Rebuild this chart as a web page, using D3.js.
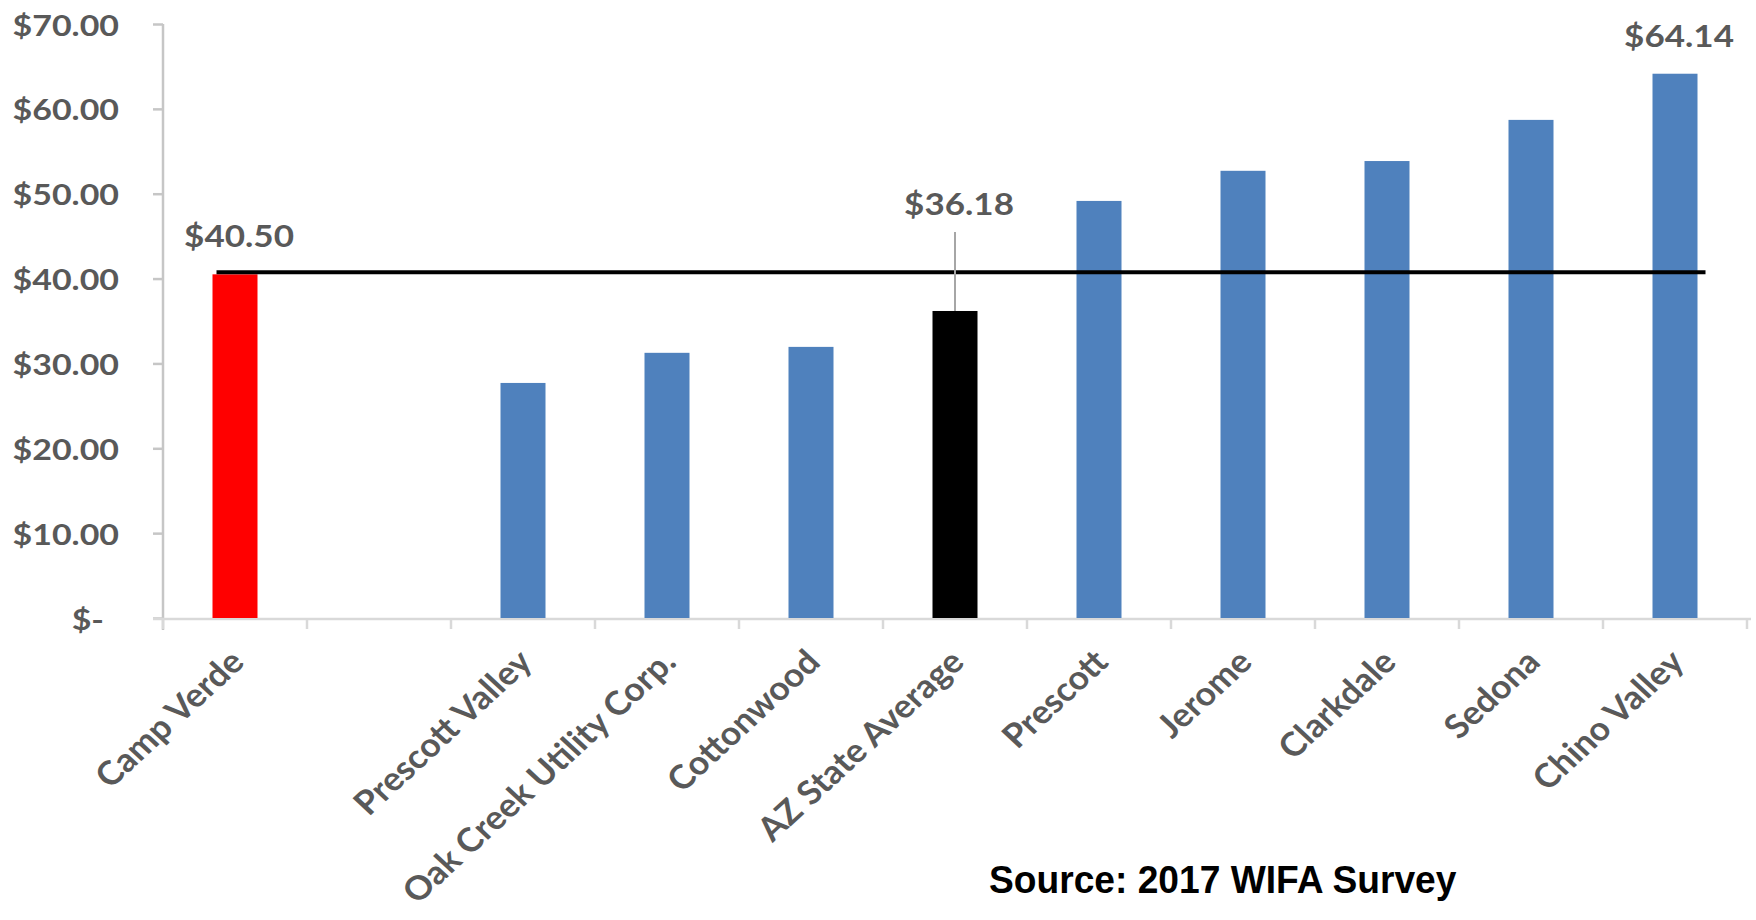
<!DOCTYPE html>
<html>
<head>
<meta charset="utf-8">
<script src="https://cdn.jsdelivr.net/npm/d3@7"></script>
<style>
  html, body { margin: 0; padding: 0; background: #ffffff; }
  svg { display: block; }
  .lbl { font-family: Lato, "Open Sans", sans-serif; font-weight: 700; fill: #595959; }
  .src { font-family: "Liberation Sans", Arial, sans-serif; font-weight: 700; fill: #000000; }
</style>
</head>
<body>
<svg id="chart" width="1756" height="920"></svg>
<script>
// Monthly residential water bill by community (blank slot keeps the gap after Camp Verde)
const categories = ["Camp Verde", "", "Prescott Valley", "Oak Creek Utility Corp.", "Cottonwood",
                    "AZ State Average", "Prescott", "Jerome", "Clarkdale", "Sedona", "Chino Valley"];
const bills = [40.50, null, 27.70, 31.25, 31.95, 36.18, 49.15, 52.70, 53.85, 58.70, 64.14];
const yTickValues = [0, 10, 20, 30, 40, 50, 60, 70];
const labelledCategories = ["Camp Verde", "AZ State Average", "Chino Valley"];
const calloutCategory = "AZ State Average";   // label lifted above with a leader line
const benchmarkCategory = "Camp Verde";       // horizontal reference line level
const sourceNote = "Source: 2017 WIFA Survey";

const barFill = { "Camp Verde": "#ff0000", "AZ State Average": "#000000" };
const defaultFill = "#4f81bd";

const svg = d3.select("#chart");
const plotLeft = 163, plotRight = 1747, plotTop = 24, plotBottom = 618;

const x = d3.scaleBand()
  .domain(categories)
  .range([plotLeft, plotRight])
  .paddingInner(0.6875)
  .paddingOuter(0.34375);

const y = d3.scaleLinear().domain([0, 70]).range([plotBottom, plotTop]);

const data = categories.map((c, i) => ({ cat: c, v: bills[i] }));
const money = d => d === 0 ? "$-" : "$" + d3.format(".2f")(d);
const gapHalf = (x.step() - x.bandwidth()) / 2;

// Y axis
const yAxis = svg.append("g")
  .attr("transform", `translate(${plotLeft},0)`)
  .call(d3.axisLeft(y).tickValues(yTickValues).tickSize(10).tickFormat(money));
yAxis.select(".domain").attr("stroke", "#c6c6c6").attr("stroke-width", 2.5)
  .attr("d", `M0,${plotTop}V${plotBottom + 12}`);
yAxis.selectAll(".tick line").attr("stroke", "#c6c6c6").attr("stroke-width", 2.5);
yAxis.selectAll(".tick text")
  .attr("class", "lbl")
  .attr("font-size", 29)
  .attr("text-anchor", "end")
  .attr("x", null).attr("dy", null)
  .attr("dominant-baseline", "central")
  .attr("transform", d => `translate(${-44 + (d === 0 ? -15 : 0)},0) scale(1.17,1)`)
  .attr("fill", "#595959");

// X axis baseline with boundary ticks
const xAxis = svg.append("g");
xAxis.append("line")
  .attr("x1", plotLeft - 10).attr("x2", plotRight + 4)
  .attr("y1", plotBottom + 1).attr("y2", plotBottom + 1)
  .attr("stroke", "#d9d9d9").attr("stroke-width", 2.5);
const bounds = categories.map(c => x(c) - gapHalf)
  .concat([x(categories[categories.length - 1]) + x.bandwidth() + gapHalf]);
xAxis.selectAll("line.bt").data(bounds).join("line")
  .attr("class", "bt")
  .attr("x1", d => d).attr("x2", d => d)
  .attr("y1", plotBottom + 1).attr("y2", plotBottom + 11)
  .attr("stroke", "#d9d9d9").attr("stroke-width", 2.5);

// Category labels, rotated
xAxis.selectAll("text.cat").data(categories.filter(c => c !== "")).join("text")
  .attr("class", "lbl cat")
  .attr("font-size", 33)
  .attr("text-anchor", "end")
  .attr("transform", c => `translate(${x(c) + x.bandwidth() / 2 + 11},${plotBottom + 46}) scale(1.08,1) rotate(-45)`)
  .text(c => c);

// Bars
svg.append("g").selectAll("rect").data(data.filter(d => d.v != null)).join("rect")
  .attr("x", d => x(d.cat))
  .attr("width", x.bandwidth())
  .attr("y", d => y(d.v))
  .attr("height", d => y(0) - y(d.v))
  .attr("fill", d => barFill[d.cat] || defaultFill);

// Reference line at the benchmark bill
const bench = data.find(d => d.cat === benchmarkCategory);
const lastCat = categories[categories.length - 1];
svg.append("line")
  .attr("x1", x(benchmarkCategory) + 4)
  .attr("x2", x(lastCat) + x.bandwidth() + 8)
  .attr("y1", y(bench.v) - 2).attr("y2", y(bench.v) - 2)
  .attr("stroke", "#000000").attr("stroke-width", 4);

// Value labels
const labelled = data.filter(d => labelledCategories.includes(d.cat));
const lg = svg.append("g");
labelled.forEach(d => {
  const cx = x(d.cat) + x.bandwidth() / 2;
  const lift = d.cat === calloutCategory ? 96 : 27;
  if (d.cat === calloutCategory) {
    lg.append("line")
      .attr("x1", cx).attr("x2", cx)
      .attr("y1", y(d.v) - lift + 17).attr("y2", y(d.v))
      .attr("stroke", "#a6a6a6").attr("stroke-width", 2);
  }
  lg.append("text")
    .attr("class", "lbl")
    .attr("font-size", 31)
    .attr("text-anchor", "middle")
    .attr("transform", `translate(${cx + 4},${y(d.v) - lift}) scale(1.13,1)`)
    .text(money(d.v));
});

// Source note
svg.append("text")
  .attr("class", "src")
  .attr("font-size", 38)
  .attr("text-anchor", "start")
  .attr("transform", "translate(989,893) scale(0.978,1)")
  .text(sourceNote);
</script>
</body>
</html>
